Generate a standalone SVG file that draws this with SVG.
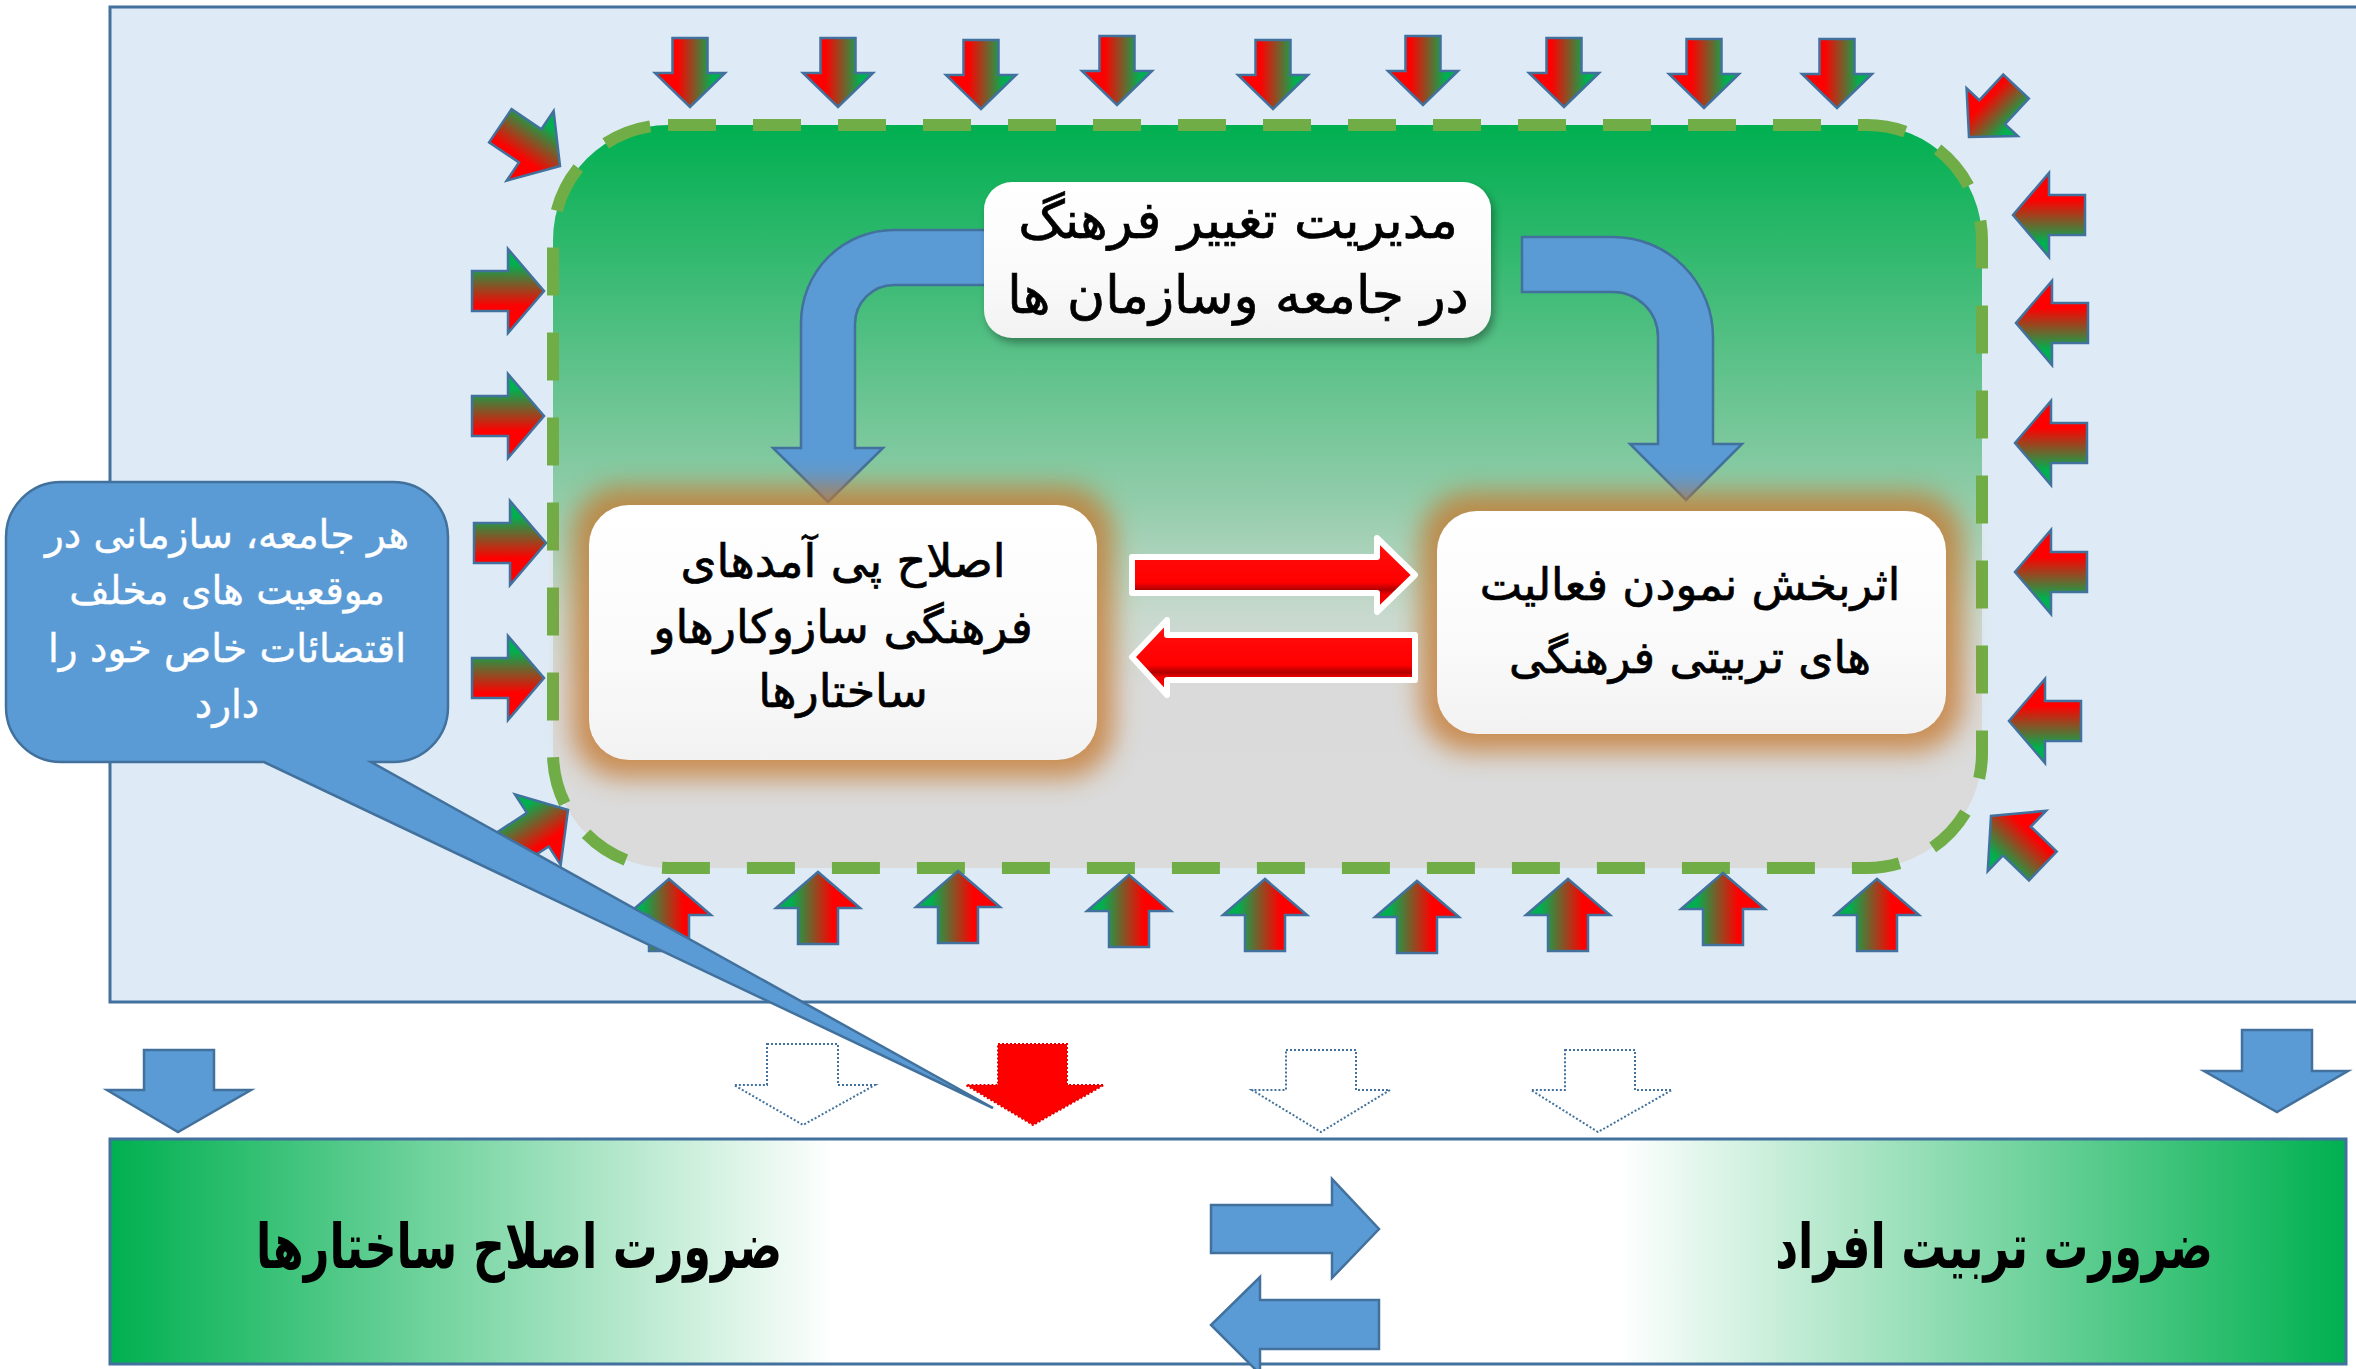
<svg xmlns="http://www.w3.org/2000/svg" width="2356" height="1369" viewBox="0 0 2356 1369">
<defs>
<style>
.ar{font-family:'DejaVu Sans','Liberation Sans',sans-serif;text-anchor:middle;direction:rtl;}
.tb{font-size:50px;fill:#000;stroke:#000;stroke-width:0.7;}
.tc{font-size:39px;fill:#fff;stroke:#fff;stroke-width:0.4;}
.tz{font-size:48px;font-weight:bold;fill:#000;}
.blue{fill:#5B9BD5;stroke:#41719C;stroke-width:2.5;}
.dot{fill:#fff;stroke:#41719C;stroke-width:2;stroke-dasharray:2 2;}
.redw{fill:url(#gR);stroke:#fff;stroke-width:6;stroke-linejoin:round;}
</style>
<linearGradient id="gA" x1="0" y1="0" x2="0" y2="1">
<stop offset="0.18" stop-color="#00B050"/>
<stop offset="0.68" stop-color="#FF0000"/>
</linearGradient>
<linearGradient id="gG" gradientUnits="userSpaceOnUse" x1="0" y1="125" x2="0" y2="868">
<stop offset="0" stop-color="#00AF50"/>
<stop offset="0.5" stop-color="#90CCA9"/>
<stop offset="0.66" stop-color="#C8D9CE"/>
<stop offset="0.76" stop-color="#DADADA"/>
<stop offset="1" stop-color="#DBDBDB"/>
</linearGradient>
<linearGradient id="gBar" gradientUnits="userSpaceOnUse" x1="110" y1="0" x2="2346" y2="0">
<stop offset="0" stop-color="#00B050"/>
<stop offset="0.324" stop-color="#FFFFFF"/>
<stop offset="0.675" stop-color="#FFFFFF"/>
<stop offset="1" stop-color="#00B050"/>
</linearGradient>
<linearGradient id="gR" x1="0" y1="0" x2="0" y2="1">
<stop offset="0" stop-color="#FF1010"/>
<stop offset="0.6" stop-color="#FF0000"/>
<stop offset="0.7" stop-color="#B00000"/>
<stop offset="0.76" stop-color="#F00000"/>
<stop offset="1" stop-color="#FF0000"/>
</linearGradient>
<linearGradient id="gW" x1="0" y1="0" x2="0" y2="1">
<stop offset="0" stop-color="#FFFFFF"/>
<stop offset="0.6" stop-color="#FAFAFA"/>
<stop offset="1" stop-color="#F2F2F2"/>
</linearGradient>
<filter id="glow" x="-20%" y="-30%" width="140%" height="160%">
<feGaussianBlur stdDeviation="13"/>
</filter>
<filter id="sh" x="-10%" y="-10%" width="120%" height="130%">
<feDropShadow dx="3" dy="5" stdDeviation="4" flood-color="#000" flood-opacity="0.35"/>
</filter>
<path id="ab" d="M-72,-20 H-36 V-42 L0,0 L-36,42 V20 H-72 Z" fill="url(#gA)" stroke="#41719C" stroke-width="2.5"/>
<path id="as" d="M-69,-17.5 H-34 V-35 L0,0 L-34,35 V17.5 H-69 Z" fill="url(#gA)" stroke="#41719C" stroke-width="2.5"/>
</defs>

<rect width="2356" height="1369" fill="#fff"/>

<g id="environment">
<rect x="110" y="7" width="2260" height="995" fill="#DEEBF7" stroke="#41719C" stroke-width="3"/>
</g>

<g id="culture-zone">
<rect x="553" y="125" width="1429" height="743" rx="115" ry="115" fill="url(#gG)" stroke="#70AD47" stroke-width="12" stroke-dasharray="48 37"/>
</g>

<g id="pressure-top">
<use href="#as" transform="translate(690,107) rotate(90)"/>
<use href="#as" transform="translate(838,107) rotate(90)"/>
<use href="#as" transform="translate(981,109) rotate(90)"/>
<use href="#as" transform="translate(1117,105) rotate(90)"/>
<use href="#as" transform="translate(1273,109) rotate(90)"/>
<use href="#as" transform="translate(1423,105) rotate(90)"/>
<use href="#as" transform="translate(1564,107) rotate(90)"/>
<use href="#as" transform="translate(1704,108) rotate(90)"/>
<use href="#as" transform="translate(1837,108) rotate(90)"/>
<use href="#ab" transform="translate(560,166) rotate(34)"/>
<use href="#as" transform="translate(1969,137) rotate(133)"/>
</g>
<g id="pressure-left">
<use href="#ab" transform="translate(544,291)"/>
<use href="#ab" transform="translate(544,416)"/>
<use href="#ab" transform="translate(546,543)"/>
<use href="#ab" transform="translate(544,678)"/>
</g>
<g id="pressure-right">
<use href="#ab" transform="translate(2013,215) rotate(180)"/>
<use href="#ab" transform="translate(2016,323) rotate(180)"/>
<use href="#ab" transform="translate(2015,443) rotate(180)"/>
<use href="#ab" transform="translate(2015,572) rotate(180)"/>
<use href="#ab" transform="translate(2009,721) rotate(180)"/>
</g>
<g id="pressure-bottom">
<use href="#ab" transform="translate(669,879) rotate(-90)"/>
<use href="#ab" transform="translate(818,872) rotate(-90)"/>
<use href="#ab" transform="translate(958,871) rotate(-90)"/>
<use href="#ab" transform="translate(1129,875) rotate(-90)"/>
<use href="#ab" transform="translate(1265,879) rotate(-90)"/>
<use href="#ab" transform="translate(1417,881) rotate(-90)"/>
<use href="#ab" transform="translate(1568,879) rotate(-90)"/>
<use href="#ab" transform="translate(1723,873) rotate(-90)"/>
<use href="#ab" transform="translate(1877,879) rotate(-90)"/>
<use href="#ab" transform="translate(568,810) rotate(-33)"/>
<use href="#ab" transform="translate(1991,816) rotate(224)"/>
</g>

<g id="connectors">
<path class="blue" d="M1000,230 L894,230 A93,93 0 0 0 801,323 L801,448 L773,448 L828,502 L883,448 L855,448 L855,324 A39,39 0 0 1 894,285 L1000,285 Z"/>
<path class="blue" d="M1522,237 L1613,237 A100,100 0 0 1 1713,337 L1713,444 L1742,444 L1686,500 L1630,444 L1658,444 L1658,337 A45,45 0 0 0 1613,292 L1522,292 Z"/>
</g>

<g id="glows" filter="url(#glow)" opacity="0.78">
<rect x="572" y="486" width="542" height="292" rx="50" fill="#C5782F"/>
<rect x="1420" y="492" width="543" height="260" rx="50" fill="#C5782F"/>
</g>

<g id="node-top">
<rect x="984" y="182" width="507" height="156" rx="28" fill="url(#gW)" filter="url(#sh)"/>
<text class="ar tb" x="1238" y="238" style="font-size:52px">مدیریت تغییر فرهنگ</text>
<text class="ar tb" x="1238" y="313" style="font-size:52px">در جامعه وسازمان ها</text>
</g>

<g id="node-left">
<rect x="589" y="505" width="508" height="255" rx="40" fill="url(#gW)"/>
<text class="ar tb" x="843" y="577" style="font-size:46px">اصلاح پی آمدهای</text>
<text class="ar tb" x="843" y="643" style="font-size:46px">فرهنگی سازوکارهاو</text>
<text class="ar tb" x="843" y="707" style="font-size:46px">ساختارها</text>
</g>

<g id="node-right">
<rect x="1437" y="511" width="509" height="223" rx="40" fill="url(#gW)"/>
<text class="ar tb" x="1690" y="600" style="font-size:45px">اثربخش نمودن فعالیت</text>
<text class="ar tb" x="1690" y="673" style="font-size:45px">های تربیتی فرهنگی</text>
</g>

<g id="connectors-red">
<path class="redw" d="M1132,557 H1377 V538 L1415,575 L1377,612 V593 H1132 Z"/>
<path class="redw" d="M1415,635 H1167 V620 L1132,657 L1167,695 V680 H1415 Z"/>
</g>

<g id="connectors-bottom">
<path class="blue" d="M144,1050 H214 V1090 H251 L178,1132 L107,1090 H144 Z"/>
<path class="dot" d="M767,1044 H838 V1085 H875 L803,1125 L734,1085 H767 Z"/>
<path d="M998,1044 H1067 V1085 H1104 L1033,1125 L966,1085 H998 Z" fill="#FF0000" stroke="#E00000" stroke-width="2" stroke-dasharray="2 2"/>
<path class="dot" d="M1286,1050 H1356 V1090 H1390 L1321,1132 L1252,1090 H1286 Z"/>
<path class="dot" d="M1565,1050 H1635 V1090 H1672 L1598,1132 L1531,1090 H1565 Z"/>
<path class="blue" d="M2242,1030 H2312 V1071 H2348 L2277,1112 L2204,1071 H2242 Z"/>
</g>

<g id="node-bar">
<rect x="110" y="1139" width="2236" height="225" fill="url(#gBar)" stroke="#41719C" stroke-width="3"/>
<text class="ar tz" transform="translate(519,1268) scale(0.93,1.3)">ضرورت اصلاح ساختارها</text>
<text class="ar tz" transform="translate(1994,1268) scale(0.93,1.3)">ضرورت تربیت افراد</text>
</g>

<g id="connectors-bar">
<path class="blue" d="M1211,1205 H1332 V1179 L1379,1229 L1332,1278 V1253 H1211 Z"/>
<path class="blue" d="M1379,1300 H1260 V1277 L1211,1325 L1260,1374 V1349 H1379 Z"/>
</g>

<g id="node-callout">
<path d="M61,482 H393 A55,55 0 0 1 448,537 V707 A55,55 0 0 1 393,762 H371 L993,1108 L264,762 H61 A55,55 0 0 1 6,707 V537 A55,55 0 0 1 61,482 Z" fill="#5B9BD5" stroke="#41719C" stroke-width="2.5"/>
<text class="ar tc" x="227" y="548">هر جامعه، سازمانی در</text>
<text class="ar tc" x="227" y="604">موقعیت های مخلف</text>
<text class="ar tc" x="227" y="662">اقتضائات خاص خود را</text>
<text class="ar tc" x="227" y="718">دارد</text>
</g>
</svg>
